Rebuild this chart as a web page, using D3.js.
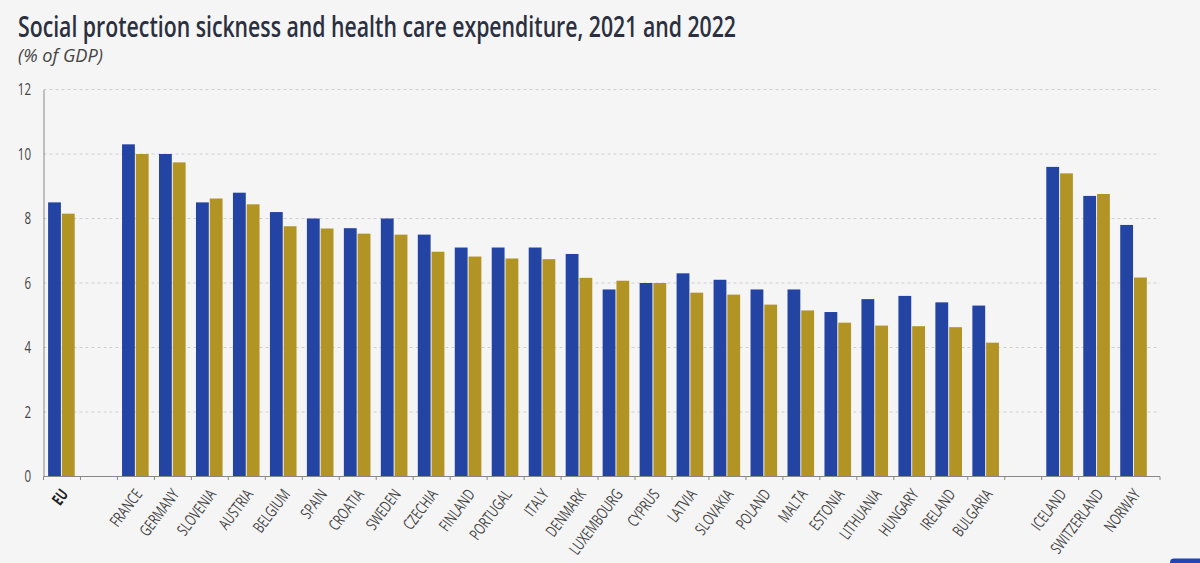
<!DOCTYPE html>
<html lang="en">
<head>
  <meta charset="UTF-8">
  <title>Social protection sickness and health care expenditure</title>
  <style>
    html, body { margin: 0; padding: 0; background: #f5f5f5; overflow: hidden; }
    svg text { font-family: 'Open Sans', sans-serif; }
    .title { font-size: 28px; font-weight: 600; fill: #2b3040; }
    .subtitle { font-size: 18px; font-style: italic; fill: #444; }
    .y-axis text { font-size: 16.5px; fill: #444; }
    .x-axis text { font-size: 16px; fill: #444; }
  </style>
</head>
<body>
  <div id="chart"></div>

  <script src="https://d3js.org/d3.v7.min.js"></script>

  <script>
    // blank slots keep the spacing between EU, member states and EFTA
    const categories = ['EU', ' ', 'FRANCE', 'GERMANY', 'SLOVENIA', 'AUSTRIA', 'BELGIUM', 'SPAIN', 'CROATIA', 'SWEDEN',
      'CZECHIA', 'FINLAND', 'PORTUGAL', 'ITALY', 'DENMARK', 'LUXEMBOURG', 'CYPRUS', 'LATVIA', 'SLOVAKIA', 'POLAND',
      'MALTA', 'ESTONIA', 'LITHUANIA', 'HUNGARY', 'IRELAND', 'BULGARIA', '  ', 'ICELAND', 'SWITZERLAND', 'NORWAY'];
    const values2021 = [8.5, null, 10.3, 10.0, 8.5, 8.8, 8.2, 8.0, 7.7, 8.0,
      7.5, 7.1, 7.1, 7.1, 6.9, 5.8, 6.0, 6.3, 6.1, 5.8,
      5.8, 5.1, 5.5, 5.6, 5.4, 5.3, null, 9.6, 8.7, 7.8];
    const values2022 = [8.15, null, 10.0, 9.74, 8.62, 8.44, 7.76, 7.69, 7.53, 7.5,
      6.97, 6.82, 6.76, 6.74, 6.16, 6.07, 6.0, 5.7, 5.64, 5.33,
      5.15, 4.77, 4.68, 4.66, 4.63, 4.15, null, 9.4, 8.76, 6.17];
    const yTicks = [0, 2, 4, 6, 8, 10, 12];
    const colors = ['#2444a4', '#b29425'];

    const width = 1200;
    const height = 563;
    const axisEnd = 1160;

    const svg = d3.select('#chart').append('svg')
      .attr('width', width)
      .attr('height', height)
      .style('display', 'block');

    // no condensed font is installed, so squeeze the glyphs to the original widths
    svg.append('text').attr('class', 'title').attr('x', 18).attr('y', 37)
      .attr('textLength', 718).attr('lengthAdjust', 'spacingAndGlyphs')
      .text('Social protection sickness and health care expenditure, 2021 and 2022');
    svg.append('text').attr('class', 'subtitle').attr('x', 18).attr('y', 62)
      .attr('textLength', 85).attr('lengthAdjust', 'spacingAndGlyphs')
      .text('(% of GDP)');

    const x = d3.scaleBand().domain(categories).range([43.5, 1152.6]);
    const y = d3.scaleLinear().domain([0, 12]).range([476.5, 89.5]);
    const series = d3.scaleBand().domain([0, 1]).range([4.6, 31.2]).paddingInner(0.07);

    // gridlines first, so that bars sit on top
    svg.append('g').selectAll('line')
      .data(yTicks.filter(d => d > 0))
      .join('line')
      .attr('x1', 43.5).attr('x2', axisEnd)
      .attr('y1', d => y(d)).attr('y2', d => y(d))
      .attr('stroke', '#cfcfcf')
      .attr('stroke-dasharray', '3,3');

    [values2021, values2022].forEach((vals, i) => {
      svg.append('g').selectAll('rect')
        .data(categories.map((c, j) => ({ c, v: vals[j] })).filter(d => d.v !== null))
        .join('rect')
        .attr('x', d => x(d.c) + series(i))
        .attr('y', d => y(d.v))
        .attr('width', series.bandwidth())
        .attr('height', d => y(0) - y(d.v))
        .attr('fill', colors[i]);
    });

    const yAxis = svg.append('g').attr('class', 'y-axis')
      .attr('transform', 'translate(43.5,0)')
      .call(d3.axisLeft(y).tickValues(yTicks).tickSize(0));
    yAxis.select('.domain').attr('stroke', '#888');
    yAxis.selectAll('.tick text')
      .attr('x', 0)
      .attr('transform', 'translate(-12.5,0) scale(0.7,1)');

    const xAxis = svg.append('g').attr('class', 'x-axis')
      .attr('transform', 'translate(0,476.5)')
      .call(d3.axisBottom(x).tickSize(0).tickPadding(0));
    xAxis.select('.domain').remove();
    xAxis.append('line')
      .attr('x1', 43.5).attr('x2', axisEnd)
      .attr('stroke', '#888');
    xAxis.selectAll('.tick text')
      .attr('text-anchor', 'end')
      .attr('dy', 0)
      .attr('y', 0)
      .attr('transform', 'translate(7,18) rotate(-53) scale(0.71,1)')
      .style('font-weight', d => d === 'EU' ? 'bold' : null)
      .style('fill', d => d === 'EU' ? '#222' : null);

    // small ticks on the band edges
    svg.append('g').selectAll('line')
      .data(categories.map(c => x(c)).concat(axisEnd))
      .join('line')
      .attr('x1', d => d).attr('x2', d => d)
      .attr('y1', 476.5).attr('y2', 480)
      .attr('stroke', '#888');

    // corner of the logo tab, cut off by the bottom edge
    svg.append('rect')
      .attr('x', 1170).attr('y', 558.5)
      .attr('width', 40).attr('height', 12).attr('rx', 4)
      .attr('fill', '#2444b4');
  </script>
</body>
</html>
